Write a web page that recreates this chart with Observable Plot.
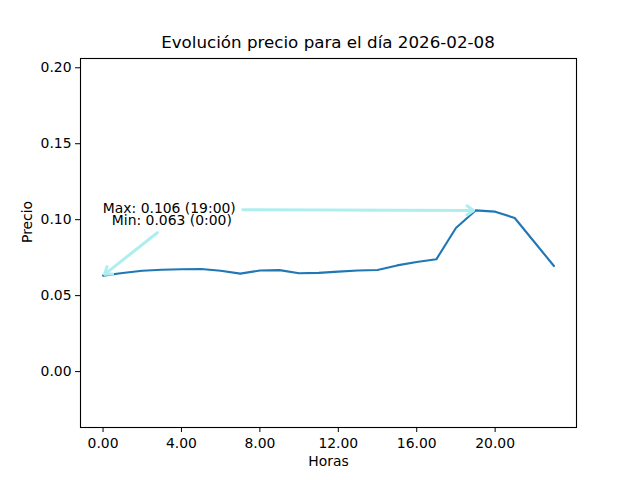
<!DOCTYPE html>
<html>
<head>
<meta charset="utf-8">
<script src="https://cdn.jsdelivr.net/npm/d3@7"></script>
<script src="https://cdn.jsdelivr.net/npm/@observablehq/plot@0.6"></script>
<style>
  html, body { margin: 0; padding: 0; background: white; }
  body { width: 640px; height: 480px; overflow: hidden; font-family: "DejaVu Sans", sans-serif; }
  #title { height: 52px; box-sizing: border-box; padding-top: 33px; padding-left: 80px; width: 576px;
           text-align: center; font-size: 16.7px; line-height: 19px; color: black; white-space: nowrap; }
</style>
</head>
<body>
<div id="title">Evolución precio para el día 2026-02-08</div>
<div id="chart"></div>
<script>
const hours = [0,1,2,3,4,5,6,7,8,9,10,11,12,13,14,15,16,17,18,19,20,21,22,23];
const prices = [0.0632,0.0649,0.0664,0.0670,0.0674,0.0675,0.0664,0.0645,0.0665,0.0668,0.0647,0.0650,0.0658,0.0665,0.0669,0.0699,0.0721,0.0739,0.0945,0.1061,0.1053,0.1011,0.0853,0.0695];
const xTicks = [0,4,8,12,16,20];
const yTicks = [0,0.05,0.10,0.15,0.20];

// annotation layout (data coordinates of text and arrow tails)
const annLabels = ["Max", "Min"];
const annTextX = [3.38, 3.51];
const annTextY = [0.1072, 0.0993];
const annTailX = [7.13, 2.77];
const annTailY = [0.1066, 0.0914];

const data = hours.map((h, i) => ({hour: h, price: prices[i]}));
const iMax = d3.maxIndex(prices);
const iMin = d3.minIndex(prices);
const fmtH = h => `${h}:00`;
const anns = [
  {label: `Max: ${prices[iMax].toFixed(3)} (${fmtH(hours[iMax])})`, tx: annTextX[0], ty: annTextY[0], x1: annTailX[0], y1: annTailY[0], x2: hours[iMax], y2: prices[iMax]},
  {label: `Min: ${prices[iMin].toFixed(3)} (${fmtH(hours[iMin])})`, tx: annTextX[1], ty: annTextY[1], x1: annTailX[1], y1: annTailY[1], x2: hours[iMin], y2: prices[iMin]}
];
const yMin = prices[iMin] - 0.1, yMax = prices[iMax] + 0.1;
const span = hours[hours.length-1] - hours[0];

const chart = Plot.plot({
  width: 640,
  height: 428,
  marginTop: 6,
  marginBottom: 53,
  marginLeft: 80,
  marginRight: 64,
  style: {fontFamily: "DejaVu Sans", fontSize: "13.9px", color: "black", background: "white", overflow: "visible"},
  x: {domain: [hours[0] - 0.05*span, hours[hours.length-1] + 0.05*span]},
  y: {domain: [yMin, yMax]},
  marks: [
    Plot.axisX({ticks: xTicks, tickFormat: d3.format(".2f"), tickSize: 5, tickPadding: 6, label: null, stroke: "black", fill: "black"}),
    Plot.axisY({ticks: yTicks, tickFormat: d3.format(".2f"), tickSize: 5, tickPadding: 4, label: null, stroke: "black", fill: "black"}),
    Plot.line(data, {x: "hour", y: "price", stroke: "#1f77b4", strokeWidth: 2.1}),
    Plot.arrow(anns, {x1: "x1", y1: "y1", x2: "x2", y2: "y2", stroke: "#afeeee", strokeWidth: 3, headLength: 4, headAngle: 70, insetEnd: 2}),
    Plot.text(anns, {x: "tx", y: "ty", text: "label", textAnchor: "middle", fill: "black", fontSize: 13.9}),
    Plot.frame({stroke: "black", strokeWidth: 1.1}),
    Plot.text(["Horas"], {frameAnchor: "bottom", dy: 38, text: d => d, fill: "black", fontSize: 13.9}),
    Plot.text(["Precio"], {frameAnchor: "left", dx: -53, rotate: -90, text: d => d, fill: "black", fontSize: 13.9})
  ]
});
document.getElementById("chart").appendChild(chart);
</script>
</body>
</html>
